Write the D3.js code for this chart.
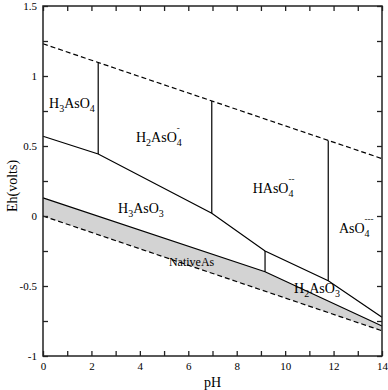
<!DOCTYPE html>
<html>
<head>
<meta charset="utf-8">
<script src="https://cdn.jsdelivr.net/npm/d3@7"></script>
<style>
  body { margin: 0; background: #fff; }
  text { font-family: "Liberation Serif", "Times New Roman", serif; fill: #000; }
</style>
</head>
<body>
<svg id="chart" width="388" height="390"></svg>
<script>
// water stability limits (dashed)
var waterUpPH = [0, 14], waterUpEh = [1.23, 0.41];
var waterLowPH = [0, 14], waterLowEh = [0, -0.82];
// As(V) / As(III) boundary
var redoxPH = [0, 2.28, 6.97, 9.17, 11.78, 14];
var redoxEh = [0.57, 0.443, 0.02, -0.25, -0.462, -0.724];
// As(III) / native As boundary
var nativePH = [0, 9.17, 14];
var nativeEh = [0.129, -0.398, -0.786];
// vertical acid-base boundaries
var pkaPH = [2.28, 6.97, 9.17, 11.78];
var pkaEhBottom = [0.443, 0.02, -0.398, -0.462];
var pkaEhTop = [1.096, 0.822, -0.25, 0.54];
// ticks
var xTicks = [0, 1, 2, 3, 4, 5, 6, 7, 8, 9, 10, 11, 12, 13, 14];
var yTicks = [-1, -0.75, -0.5, -0.25, 0, 0.25, 0.5, 0.75, 1, 1.25, 1.5];
// field labels: "_" = subscript, "^" = charge stacked over subscript
var labelNames = ["H_3AsO_4", "H_2AsO_4^-", "HAsO_4^--", "AsO_4^---", "H_3AsO_3", "NativeAs", "H_2AsO_3"];
var labelPH = [0.25, 3.84, 8.66, 12.22, 3.1, 5.2, 10.37];
var labelEh = [0.768, 0.531, 0.164, -0.12, 0.021, -0.36, -0.55];

var svg = d3.select("#chart"),
  margin = { top: 6, left: 43, bottom: 34, right: 6 },
  width = +svg.attr("width"),
  height = +svg.attr("height");

var x = d3.scaleLinear().domain([0, 14]).range([margin.left, width - margin.right]);
var y = d3.scaleLinear().domain([-1, 1.5]).range([height - margin.bottom, margin.top]);

var line = d3.line().x((d) => x(d[0])).y((d) => y(d[1]));
var pts = (a, b) => a.map((v, i) => [v, b[i]]);

// grey native As field
var band = pts(nativePH, nativeEh).concat(pts(waterLowPH, waterLowEh).reverse());
svg.append("path")
  .attr("d", line(band) + "Z")
  .attr("fill", "#d3d3d3")
  .attr("stroke", "none");

// solid boundaries
svg.append("path")
  .attr("d", line(pts(redoxPH, redoxEh)))
  .attr("fill", "none").attr("stroke", "#000").attr("stroke-width", 1.2);
svg.append("path")
  .attr("d", line(pts(nativePH, nativeEh)))
  .attr("fill", "none").attr("stroke", "#000").attr("stroke-width", 1.2);

svg.selectAll(".pka")
  .data(pkaPH)
  .enter()
  .append("line")
  .attr("class", "pka")
  .attr("x1", (d) => x(d)).attr("x2", (d) => x(d))
  .attr("y1", (d, i) => y(pkaEhBottom[i]))
  .attr("y2", (d, i) => y(pkaEhTop[i]))
  .attr("stroke", "#000").attr("stroke-width", 1.2);

// water lines
[pts(waterUpPH, waterUpEh), pts(waterLowPH, waterLowEh)].forEach(function (d) {
  svg.append("path")
    .attr("d", line(d))
    .attr("fill", "none").attr("stroke", "#000").attr("stroke-width", 1.2)
    .attr("stroke-dasharray", "5,3");
});

// labels
labelNames.forEach(function (name, i) {
  var t = svg.append("text")
    .attr("x", x(labelPH[i]))
    .attr("y", y(labelEh[i]))
    .style("font-size", name === "NativeAs" ? "12px" : "14px");
  var shift = 0;
  var parts = name.split("^");
  var body = parts[0];
  for (var k = 0; k < body.length; k++) {
    if (body[k] === "_") {
      k++;
      t.append("tspan").attr("dy", 4 - shift).style("font-size", "10px").text(body[k]);
      shift = 4;
    } else {
      var s = "";
      while (k < body.length && body[k] !== "_") s += body[k++];
      k--;
      t.append("tspan").attr("dy", -shift).text(s);
      shift = 0;
    }
  }
  if (parts[1]) {
    t.append("tspan").attr("dx", -5).attr("dy", -11 - shift)
      .style("font-size", "9px").text(parts[1]);
  }
});

// axes with inward ticks
svg.append("g")
  .attr("transform", `translate(0,${height - margin.bottom})`)
  .call(d3.axisBottom(x).tickValues(xTicks).tickSize(-5).tickPadding(6)
    .tickFormat((d) => (d % 2 === 0 ? String(d) : "")));
svg.append("g")
  .attr("transform", `translate(0,${margin.top})`)
  .call(d3.axisTop(x).tickValues(xTicks).tickSize(-5).tickFormat(""));
svg.append("g")
  .attr("transform", `translate(${margin.left},0)`)
  .call(d3.axisLeft(y).tickValues(yTicks).tickSize(-5).tickPadding(6)
    .tickFormat((d) => (d % 0.5 === 0 ? String(d) : "")));
svg.append("g")
  .attr("transform", `translate(${width - margin.right},0)`)
  .call(d3.axisRight(y).tickValues(yTicks).tickSize(-5).tickFormat(""));

svg.selectAll(".domain").remove();
svg.selectAll(".tick line").attr("stroke", "#222").attr("stroke-width", 1.3);
svg.selectAll(".tick text")
  .style("font-family", '"Liberation Serif", serif')
  .style("font-size", "11px")
  .attr("fill", "#000");

svg.append("rect")
  .attr("x", margin.left).attr("y", margin.top)
  .attr("width", width - margin.left - margin.right)
  .attr("height", height - margin.top - margin.bottom)
  .attr("fill", "none").attr("stroke", "#222").attr("stroke-width", 1.5);

// axis titles
svg.append("text")
  .attr("x", (margin.left + width - margin.right) / 2)
  .attr("y", 387)
  .attr("text-anchor", "middle")
  .style("font-size", "14px")
  .text("pH");
svg.append("text")
  .attr("transform", "translate(17,186) rotate(-90)")
  .attr("text-anchor", "middle")
  .style("font-size", "14px")
  .text("Eh(volts)");
</script>
</body>
</html>
